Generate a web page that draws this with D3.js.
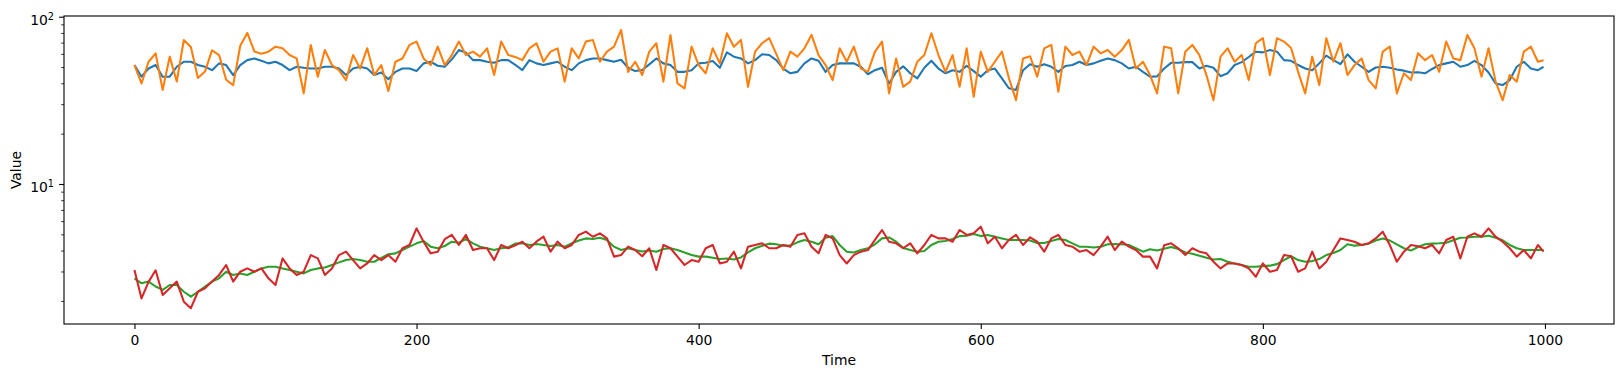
<!DOCTYPE html>
<html><head><meta charset="utf-8">
<script src="https://cdn.jsdelivr.net/npm/d3@7"></script>
<style>html,body{margin:0;padding:0;background:#fff;} svg{display:block;font-family:"DejaVu Sans",sans-serif;}</style>
</head><body><svg id="chart" width="1624" height="377"></svg>
<script>
const time = [0,5,10,15,20,25,30,35,40,45,50,55,60,65,70,75,80,85,90,95,
100,105,110,115,120,125,130,135,140,145,150,155,160,165,170,175,180,185,190,195,
200,205,210,215,220,225,230,235,240,245,250,255,260,265,270,275,280,285,290,295,
300,305,310,315,320,325,330,335,340,345,350,355,360,365,370,375,380,385,390,395,
400,405,410,415,420,425,430,435,440,445,450,455,460,465,470,475,480,485,490,495,
500,505,510,515,520,525,530,535,540,545,550,555,560,565,570,575,580,585,590,595,
600,605,610,615,620,625,630,635,640,645,650,655,660,665,670,675,680,685,690,695,
700,705,710,715,720,725,730,735,740,745,750,755,760,765,770,775,780,785,790,795,
800,805,810,815,820,825,830,835,840,845,850,855,860,865,870,875,880,885,890,895,
900,905,910,915,920,925,930,935,940,945,950,955,960,965,970,975,980,985,990,995,999];

const seriesBlue = [51.4,43.8,49,51.4,43.8,43.8,50.2,53.8,53.8,51.4,
50.2,47.9,52.6,51.4,44.8,51.4,55,56.3,54.5,52.6,
53.8,51.4,47.9,50.2,49.5,49,49,50.2,50.2,49,
44.8,49,50.2,49,44.8,46.4,42.3,46.8,49,49,
47.3,52.6,53.8,50.9,50.2,55.6,63.2,61,55,55,
53.8,53,55,55,51.6,47.9,55,52.6,51.4,52.6,
53.8,50.2,47.9,52.6,55,56.3,56.3,55,53.8,55.3,
49.5,47.3,48,51.9,56.3,52.6,51.4,46.8,46.8,47.9,
52.6,53,54.3,49.5,61.2,57.7,56.3,52.6,55,59.6,
59,55,49,45.9,46.8,52.6,56.3,54.5,46.8,51.4,
52.6,52.6,52.6,50.2,45.3,47.9,49.5,39.9,46.8,50.5,
45.9,42.8,49.5,54.5,49,45.9,47.9,46.8,50.9,47.3,
43.8,47.9,49,42.8,37.3,36.5,47.9,52,50.2,51.9,
50.2,46.8,50.7,51.4,53.8,51.4,52.6,54.5,56.3,55,
52.6,49,50.2,46.8,43.8,44,49,53,53,53.5,
53.5,49,50.9,49.5,44.1,45.9,51.4,53.5,57.4,61.8,
61.2,63.2,61.8,55,54.5,51.4,49,47.9,52.6,58.5,
55,52.1,59.6,53.8,50.2,46.8,49.7,50.2,49.5,48.4,
47.6,46.4,46.5,45.9,48.7,51.4,52.6,53.8,50.2,51.4,
54.5,51.4,46.4,39.9,39,41.8,50.2,53.8,49,47.9,50.2];

const seriesOrange = [51.4,39.9,53.8,60.4,36.5,57.7,41,72.6,66,43,
47,63,59,42,39,67,80,62,60,61.8,
66.2,64.7,59,56.3,34.8,67.8,43.8,63.2,51.4,47.9,
41.8,59,49,64.7,44.8,51.4,36,53.8,56.3,67.8,
71,56.3,51.4,66.2,51.4,59,71,59,61.8,57.7,
64.7,44.8,71,59,57.5,55,64.7,69.4,53.8,61.8,
64.7,40.9,64.7,56.3,71,72.6,53.8,61.8,66.2,83.3,
46.8,53.8,44.8,61.8,69.4,40.9,77.8,39.9,37.3,66.2,
51.4,45.9,64.7,52.6,79.6,66.2,72.6,38.1,61.8,69.4,
74.4,60,47.9,61.8,57.7,64.7,77.8,59,51.4,41.8,
64.7,53.8,66.2,49,46.8,61.8,71,34.8,56.3,38.1,
40.9,53.8,59,79.6,59,46.8,59,38.1,64.7,33.2,
61.8,46.8,53.8,61.8,42.8,31.7,56.3,58,43.8,64.7,
67.8,35.6,66.2,59,61.8,51.4,66.2,60.4,63.2,57.7,
63.2,72.6,49,53.8,44.8,34.8,66.2,64.7,34.8,61.8,
67.8,59,44.8,31.7,57.7,64.7,53.8,59,41.8,69.4,
74.4,44.8,74.4,71,65,46.8,34.8,57.7,39,74.4,
53.8,69.4,44.8,51.4,56.3,41.8,37.3,61.8,66.2,34.8,
45.9,41.8,60.4,55,59,46.8,71,56.3,55,77.8,
64.7,43.8,64.7,40.9,31.7,44.8,40.9,61.8,66.2,53.8,55];

const seriesGreen = [2.73,2.55,2.61,2.44,2.33,2.49,2.49,2.27,2.12,2.27,
2.44,2.61,2.73,2.99,2.86,2.92,2.86,2.99,3.13,3.2,
3.2,3.13,3.06,2.99,2.92,3.06,3.13,3.17,3.28,3.4,
3.51,3.56,3.51,3.43,3.43,3.62,3.8,3.85,4.03,4.22,
4.42,4.56,4.22,4.13,4.26,4.52,4.46,4.69,4.42,4.22,
4.13,4.03,4.13,4.18,4.4,4.42,4.32,4.38,4.32,4.26,
4.32,4.22,4.42,4.59,4.73,4.69,4.77,4.63,4.22,4.03,
4.13,4.03,3.95,4.0,3.94,4.09,4.13,4.03,3.9,3.76,
3.68,3.68,3.62,3.56,3.59,3.54,3.64,3.9,4.13,4.28,
4.4,4.36,4.28,4.28,4.48,4.63,4.52,4.36,4.77,4.88,
4.32,3.94,3.9,4.03,4.13,4.36,4.73,4.79,4.52,4.15,
4.03,3.94,3.98,4.32,4.52,4.56,4.69,4.88,4.9,5.02,
4.88,4.96,4.84,4.73,4.63,4.63,4.63,4.6,4.44,4.44,
4.56,4.69,4.63,4.42,4.22,4.22,4.17,4.22,4.36,4.38,
4.36,4.32,4.13,3.94,4.07,4.0,4.1,4.2,4.09,3.9,
3.83,3.72,3.62,3.54,3.56,3.43,3.35,3.28,3.2,3.2,
3.23,3.25,3.32,3.51,3.7,3.51,3.43,3.46,3.56,3.76,
3.87,4.03,4.36,4.28,4.32,4.4,4.59,4.73,4.59,4.36,
4.13,4.0,4.2,4.36,4.4,4.42,4.46,4.61,4.77,4.79,
4.84,4.84,4.9,4.77,4.61,4.32,4.13,4.03,4.03,4.03,4.03];

const seriesRed = [3.06,2.07,2.6,3.05,2.17,2.38,2.61,1.98,1.81,2.27,
2.38,2.61,2.86,3.28,2.61,2.99,3.13,2.99,3.13,2.73,
2.49,3.59,3.13,2.86,2.99,3.76,3.59,2.86,3.13,3.76,
3.94,3.51,3.13,3.35,3.76,3.51,3.76,3.43,4.13,4.32,
5.43,4.52,3.85,3.94,4.68,4.96,4.32,4.96,4.03,4.13,
4.13,3.51,4.32,4.13,4.3,4.52,4.13,4.52,4.84,3.94,
4.52,4.13,4.32,4.96,5.19,4.84,5.07,4.73,3.68,3.76,
4.22,4.03,3.7,4.13,3.06,4.32,4.13,3.68,3.28,3.51,
3.43,4.13,4.32,3.35,3.43,3.94,3.13,4.22,4.32,4.42,
4.13,4.13,4.32,4.22,4.96,5.07,4.22,3.85,4.96,4.73,
3.76,3.35,3.76,3.94,4.03,4.63,5.31,4.52,4.42,4.13,
4.42,3.85,4.32,4.96,4.73,4.73,4.52,5.31,4.96,5.07,
5.56,4.42,4.84,4.13,4.63,4.96,4.32,4.8,4.52,3.94,
4.73,4.96,4.32,4.22,3.94,4.03,3.76,4.22,4.84,4.03,
4.52,4.22,4.03,3.68,3.68,3.13,4.3,4.42,4.13,3.76,
4.13,3.94,3.85,3.43,3.13,3.35,3.35,3.28,3.13,2.79,
3.35,2.99,3.06,3.76,3.7,2.99,3.13,3.94,3.13,3.43,
4.03,4.73,4.63,4.52,4.32,4.42,4.73,5.19,4.32,3.43,
3.94,4.32,4.25,4.13,4.32,3.85,4.63,4.84,3.59,4.84,
5.07,4.84,5.43,4.84,4.52,4.13,3.68,4.03,3.59,4.32,3.94];

const xTickValues = [0, 200, 400, 600, 800, 1000];
const yMajorTicks = [10, 100];
const yMajorExponents = ["1", "2"];
const yMinorTicks = [2, 3, 4, 5, 6, 7, 8, 9, 20, 30, 40, 50, 60, 70, 80, 90];
const xLabel = "Time";
const yLabel = "Value";
const colors = ["#1f77b4", "#ff7f0e", "#2ca02c", "#d62728"];

// ---- layout ----
const L = 64, R = 1614, T = 16, B = 324;
const svg = d3.select("#chart");
const x = d3.scaleLinear().domain([-49.95, 1048.95]).range([L, R]);
const y = d3.scaleLog().domain([1.456, 100.96]).range([B, T]);

// lines
const series = [seriesBlue, seriesOrange, seriesGreen, seriesRed];
const line = d3.line().x((d, i) => x(time[i])).y(d => y(d));
const gLines = svg.append("g");
series.forEach((s, k) => {
  gLines.append("path").datum(s)
    .attr("d", line)
    .attr("fill", "none")
    .attr("stroke", colors[k])
    .attr("stroke-width", 2.08)
    .attr("stroke-linejoin", "round")
    .attr("stroke-linecap", "butt");
});

// x axis
const gx = svg.append("g").attr("transform", `translate(0,${B})`)
  .call(d3.axisBottom(x).tickValues(xTickValues).tickSizeInner(4.9).tickSizeOuter(0)
        .tickPadding(6.2).tickFormat(d3.format("d")));
gx.select(".domain").remove();
gx.selectAll("line").attr("stroke", "#000").attr("stroke-width", 1.1);
gx.selectAll("text").attr("font-size", "13.9px").attr("font-family", "DejaVu Sans").attr("fill", "#000");

// y axis major
const gy = svg.append("g").attr("transform", `translate(${L},0)`)
  .call(d3.axisLeft(y).tickValues(yMajorTicks).tickSizeInner(4.9).tickSizeOuter(0)
        .tickFormat(() => ""));
gy.select(".domain").remove();
gy.selectAll("line").attr("stroke", "#000").attr("stroke-width", 1.1);
gy.selectAll("text").remove();
gy.selectAll(".tick").each(function(d, i) {
  const t = d3.select(this).append("text")
    .attr("x", -10).attr("y", 8)
    .attr("text-anchor", "end")
    .attr("fill", "#000")
    .attr("font-family", "DejaVu Sans")
    .attr("font-size", "13.9px");
  t.append("tspan").text("10");
  t.append("tspan").attr("dy", -5.3).attr("font-size", "9.7px").text(yMajorExponents[i]);
});

// y axis minor
const gym = svg.append("g").attr("transform", `translate(${L},0)`)
  .call(d3.axisLeft(y).tickValues(yMinorTicks.filter(v => v >= 1.456 && v <= 100.96))
        .tickSizeInner(2.8).tickSizeOuter(0).tickFormat(() => ""));
gym.select(".domain").remove();
gym.selectAll("line").attr("stroke", "#000").attr("stroke-width", 0.8);
gym.selectAll("text").remove();

// frame
svg.append("rect").attr("x", L).attr("y", T).attr("width", R - L).attr("height", B - T)
  .attr("fill", "none").attr("stroke", "#000").attr("stroke-width", 1.1);

// labels
svg.append("text").attr("x", (L + R) / 2).attr("y", 365)
  .attr("text-anchor", "middle").attr("font-size", "13.9px").attr("fill", "#000").text(xLabel);
svg.append("text").attr("transform", `translate(21,${(T + B) / 2}) rotate(-90)`)
  .attr("text-anchor", "middle").attr("font-size", "13.9px").attr("fill", "#000").text(yLabel);
</script></body></html>
